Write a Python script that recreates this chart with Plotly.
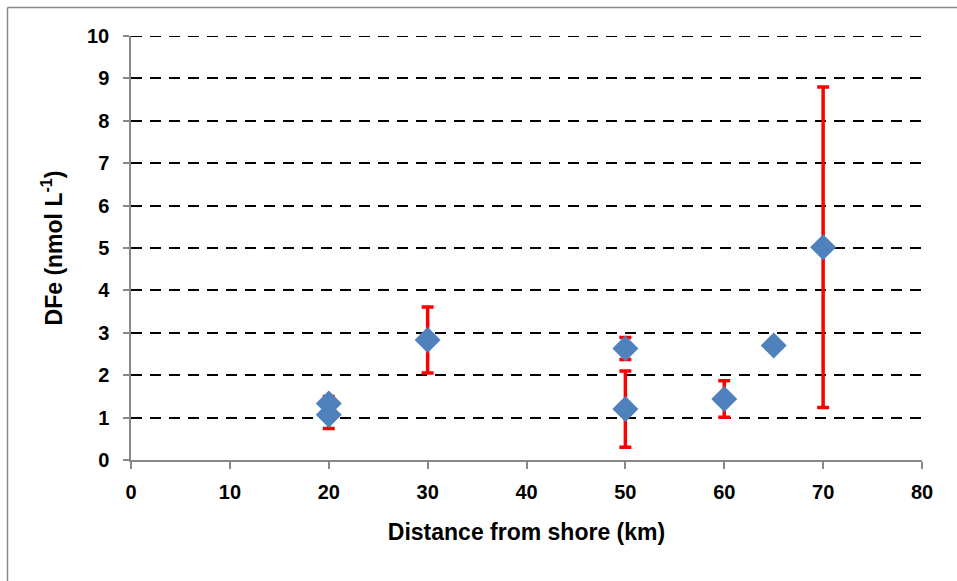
import plotly.graph_objects as go

distance_km = [20, 20, 30, 50, 50, 60, 65, 70]
dfe_nmol = [1.33, 1.07, 2.83, 2.63, 1.20, 1.44, 2.70, 5.02]
dfe_err = [0.17, 0.33, 0.78, 0.26, 0.90, 0.43, 0.0, 3.78]

x_ticks = [0, 10, 20, 30, 40, 50, 60, 70, 80]
y_ticks = [0, 1, 2, 3, 4, 5, 6, 7, 8, 9, 10]

W, H = 957, 581
L, R, T, B = 131, 35, 36, 121
DASH = "11px,8px"

fig = go.Figure()
fig.add_trace(go.Scatter(
    x=distance_km, y=dfe_nmol, mode="markers",
    marker=dict(symbol="diamond", size=20, color="#4F81BD"),
    error_y=dict(type="data", array=dfe_err, visible=True,
                 color="#FF0000", thickness=3.5, width=6),
    showlegend=False,
))

font = "Liberation Sans, Arial, sans-serif"
tickfont = dict(family=font, size=20, color="black", weight="bold")
fig.update_layout(
    width=W, height=H,
    margin=dict(l=L, r=R, t=T, b=B),
    paper_bgcolor="white", plot_bgcolor="white",
    font=dict(family=font, size=20, color="black"),
    xaxis=dict(range=[x_ticks[0], x_ticks[-1]], tickvals=x_ticks, showgrid=False, zeroline=False,
               showline=True, linecolor="#888888", linewidth=1.5,
               ticks="outside", ticklen=7, tickcolor="#888888", tickwidth=1.5,
               ticklabelstandoff=6, tickfont=tickfont,
               title=dict(text="<b>Distance from shore (km)</b>", standoff=22,
                          font=dict(family=font, size=23))),
    yaxis=dict(range=[y_ticks[0], y_ticks[-1]], tickvals=y_ticks, showgrid=True,
               gridcolor="black", griddash=DASH, gridwidth=2, zeroline=False,
               showline=True, linecolor="#888888", linewidth=1.5,
               ticks="outside", ticklen=6, tickcolor="#888888", tickwidth=1.5,
               ticklabelstandoff=10, tickfont=tickfont,
               title=dict(text="<b>DFe (nmol L<sup>-1</sup>)</b>", standoff=18,
                          font=dict(family=font, size=23))),
)

# top gridline (at the range edge, which plotly omits)
fig.add_shape(type="line", xref="x", yref="y", x0=x_ticks[0], x1=x_ticks[-1],
              y0=y_ticks[-1], y1=y_ticks[-1], layer="below",
              line=dict(color="black", width=2, dash=DASH))

# outer chart border (top and left)
pw, ph = W - L - R, H - T - B
x0 = (7.5 - L) / pw
y_top = 1 + (T - 7.5) / ph
y_bot = -(B + 5) / ph
fig.add_shape(type="line", xref="paper", yref="paper", x0=x0, x1=(W + 5 - L) / pw,
              y0=y_top, y1=y_top, line=dict(color="#888888", width=1.5))
fig.add_shape(type="line", xref="paper", yref="paper", x0=x0, x1=x0,
              y0=y_bot, y1=y_top, line=dict(color="#888888", width=1.5))

fig.write_html("out.html", config={"displayModeBar": False},
               post_script="document.body.style.margin='0';document.body.style.overflow='hidden';")
